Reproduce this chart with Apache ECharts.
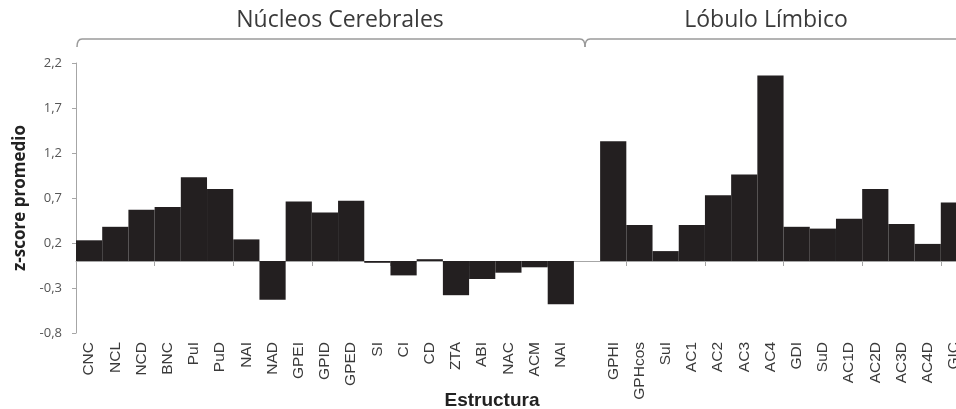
<!DOCTYPE html>
<html>
<head>
<meta charset="utf-8">
<script src="https://cdn.jsdelivr.net/npm/echarts@6/dist/echarts.min.js"></script>
<style>
html,body{margin:0;padding:0;background:#fff;overflow:hidden;width:956px;height:409px;}
#c{width:967px;height:409px;}
</style>
</head>
<body>
<div id="c"></div>
<script>
// ---- data ----
const nucleosLabels = ['CNC','NCL','NCD','BNC','PuI','PuD','NAI','NAD','GPEI','GPID','GPED','SI','CI','CD','ZTA','ABI','NAC','ACM','NAI'];
const nucleosValues = [0.23,0.38,0.57,0.60,0.93,0.80,0.24,-0.43,0.66,0.54,0.67,-0.02,-0.16,0.02,-0.38,-0.20,-0.13,-0.07,-0.48];
const limbicoLabels = ['GPHI','GPHcos','SuI','AC1','AC2','AC3','AC4','GDI','SuD','AC1D','AC2D','AC3D','AC4D','GIC'];
const limbicoValues = [1.33,0.40,0.11,0.40,0.73,0.96,2.06,0.38,0.36,0.47,0.80,0.41,0.19,0.65];
const groupNames = ['Núcleos Cerebrales','Lóbulo Límbico'];
const yTickLabels = ['-0,8','-0,3','0,2','0,7','1,2','1,7','2,2'];
const yMin = -0.8, yMax = 2.2, yStep = 0.5;

const categories = nucleosLabels.concat([''], limbicoLabels);
const values = nucleosValues.concat([null], limbicoValues);

const chart = echarts.init(document.getElementById('c'), null, {renderer:'canvas'});
const gridLeft = 76, gridTop = 63, gridBottom = 76;
const axisGray = '#a6a6a6';

const option = {
  animation:false,
  grid:{left:gridLeft, right:0, top:gridTop, bottom:gridBottom, containLabel:false},
  xAxis:[
    {type:'category', data:categories, gridIndex:0, position:'bottom',
     axisLine:{show:true, onZero:true, onZeroAxisIndex:0, lineStyle:{color:axisGray, width:1}},
     axisTick:{show:true, length:5, lineStyle:{color:axisGray}},
     axisLabel:{show:false}, splitLine:{show:false}},
    {type:'category', data:categories, gridIndex:0, position:'bottom',
     axisLine:{show:false, onZero:false}, axisTick:{show:false}, splitLine:{show:false},
     axisLabel:{show:true, rotate:90, margin:9, interval:0, fontSize:15.5,
       fontFamily:'Liberation Sans, Arial, sans-serif', color:'#3a3a3a'}}
  ],
  yAxis:[
    {type:'value', min:yMin, max:yMax, show:false, splitLine:{show:false}},
    {type:'value', min:0, max:yMax-yMin, interval:yStep, position:'left',
     axisLine:{show:true, lineStyle:{color:axisGray, width:1}},
     axisTick:{show:true, length:4, lineStyle:{color:axisGray}},
     splitLine:{show:false},
     axisLabel:{margin:14, fontSize:13, fontFamily:'Open Sans, sans-serif', color:'#555',
       formatter:function(v){ const i = Math.round(v/yStep); return yTickLabels[i] || ''; }},
     name:'z-score promedio', nameLocation:'middle', nameGap:46, nameRotate:90,
     nameTextStyle:{fontSize:17, fontWeight:'bold', fontFamily:'Open Sans, sans-serif', color:'#222'}}
  ],
  series:[{
    type:'bar', xAxisIndex:0, yAxisIndex:0, data:values,
    barWidth:'100%', barCategoryGap:'0%', barGap:'0%',
    itemStyle:{color:'#231f20'}
  }]
};
chart.setOption(option);

// brackets and group titles (decoration positioned from the axis)
function px(i){ return chart.convertToPixel({xAxisIndex:0}, i); }
const bw = px(1) - px(0);
const xStart = px(0) - bw/2 + 1;
const xJoin = px(nucleosLabels.length) - 2;
const xEnd = px(categories.length - 1) + bw/2 + 5;
const yLine = 39, yHook = 47, r = 5;
const bStyle = {stroke:'#9a9a9a', lineWidth:1.5, fill:null};

chart.setOption({
  graphic:[
    {type:'bezierCurve', silent:true, style:bStyle,
     shape:{x1:xStart, y1:yHook, x2:xStart + r, y2:yLine, cpx1:xStart, cpy1:yLine}},
    {type:'line', silent:true, style:bStyle,
     shape:{x1:xStart + r, y1:yLine, x2:xJoin - r, y2:yLine}},
    {type:'bezierCurve', silent:true, style:bStyle,
     shape:{x1:xJoin - r, y1:yLine, x2:xJoin, y2:yHook, cpx1:xJoin, cpy1:yLine}},
    {type:'bezierCurve', silent:true, style:bStyle,
     shape:{x1:xJoin, y1:yHook, x2:xJoin + r, y2:yLine, cpx1:xJoin, cpy1:yLine}},
    {type:'line', silent:true, style:bStyle,
     shape:{x1:xJoin + r, y1:yLine, x2:xEnd, y2:yLine}},
    {type:'text', silent:true, x:340, y:9,
     style:{text:groupNames[0], fontSize:23, fontFamily:'Open Sans', fill:'#3a3a3a', align:'center', textAlign:'center'}},
    {type:'text', silent:true, x:766, y:9,
     style:{text:groupNames[1], fontSize:23, fontFamily:'Open Sans', fill:'#3a3a3a', align:'center', textAlign:'center'}},
    {type:'text', silent:true, x:492, y:391,
     style:{text:'Estructura', fontSize:19, fontWeight:'bold', fontFamily:'Liberation Sans, Arial', fill:'#222', align:'center', textAlign:'center'}}
  ]
});
</script>
</body>
</html>
